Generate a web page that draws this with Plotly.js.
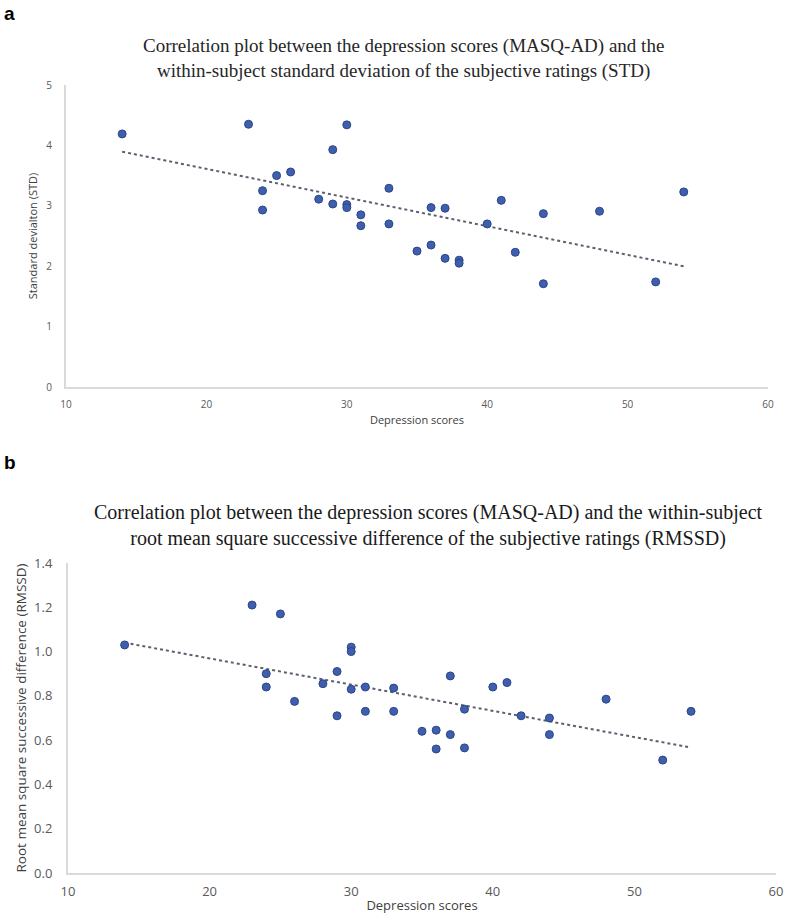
<!DOCTYPE html>
<html>
<head>
<meta charset="utf-8">
<script src="https://cdn.plot.ly/plotly-3.0.1.min.js"></script>
<style>
  html, body { margin: 0; padding: 0; background: #ffffff; }
  #chart { width: 792px; height: 922px; }
</style>
</head>
<body>
<div id="chart"></div>
<script>
// Depression scores (MASQ-AD) per subject
const depressionA = [14, 23, 24, 24, 25, 26, 28, 29, 29, 30, 30, 30, 31, 31, 33, 33, 35, 36, 36, 37, 37, 38, 38, 40, 41, 42, 44, 44, 48, 52, 54];
// Within-subject standard deviation (STD)
const stdValues   = [4.19, 4.35, 3.25, 2.93, 3.50, 3.56, 3.11, 3.93, 3.03, 4.34, 3.02, 2.97, 2.85, 2.67, 3.29, 2.70, 2.25, 2.97, 2.35, 2.96, 2.13, 2.10, 2.05, 2.70, 3.09, 2.23, 2.87, 1.71, 2.91, 1.74, 3.23];

const depressionB = [14, 23, 24, 24, 25, 26, 28, 29, 29, 30, 30, 30, 31, 31, 33, 33, 35, 36, 36, 37, 37, 38, 38, 40, 41, 42, 44, 44, 48, 52, 54];
// Root mean square successive difference (RMSSD)
const rmssdValues = [1.03, 1.21, 0.90, 0.84, 1.17, 0.775, 0.855, 0.91, 0.71, 1.02, 1.00, 0.83, 0.84, 0.73, 0.835, 0.73, 0.64, 0.645, 0.56, 0.89, 0.625, 0.74, 0.565, 0.84, 0.86, 0.71, 0.70, 0.625, 0.785, 0.51, 0.73];

const xTicks = [10, 20, 30, 40, 50, 60];

function linearFit(xs, ys) {
  const n = xs.length;
  let sx = 0, sy = 0, sxx = 0, sxy = 0;
  for (let i = 0; i < n; i++) { sx += xs[i]; sy += ys[i]; sxx += xs[i]*xs[i]; sxy += xs[i]*ys[i]; }
  const slope = (n*sxy - sx*sy) / (n*sxx - sx*sx);
  const intercept = (sy - slope*sx) / n;
  const x0 = Math.min(...xs), x1 = Math.max(...xs);
  return { x: [x0, x1], y: [intercept + slope*x0, intercept + slope*x1] };
}

const fitA = linearFit(depressionA, stdValues);
const fitB = linearFit(depressionB, rmssdValues);

const W = 792, H = 922;
const px = v => v / W;
const py = v => 1 - v / H;

const markerStyle = { color: '#3f5fae', size: 8, line: { color: '#2a4687', width: 1 } };
const trendStyle = { color: '#5b5f6e', width: 2, dash: 'dot' };

const traces = [
  { type: 'scatter', mode: 'lines', x: fitA.x, y: fitA.y, xaxis: 'x', yaxis: 'y', line: trendStyle, hoverinfo: 'skip' },
  { type: 'scatter', mode: 'markers', x: depressionA, y: stdValues, xaxis: 'x', yaxis: 'y', marker: markerStyle },
  { type: 'scatter', mode: 'lines', x: fitB.x, y: fitB.y, xaxis: 'x2', yaxis: 'y2', line: trendStyle, hoverinfo: 'skip' },
  { type: 'scatter', mode: 'markers', x: depressionB, y: rmssdValues, xaxis: 'x2', yaxis: 'y2', marker: markerStyle }
];

const sans = 'Open Sans, Lato, sans-serif';
const tickFontA = { family: sans, size: 10, color: '#595959' };
const tickFontB = { family: sans, size: 13, color: '#595959' };
const axisCommon = { showgrid: false, zeroline: false, showline: true, linecolor: '#d9d9d9', linewidth: 2, ticks: '' };
const titleSerif = 'Liberation Serif, Times New Roman, serif';

const layout = {
  width: W, height: H,
  margin: { l: 0, r: 0, t: 0, b: 0 },
  paper_bgcolor: '#ffffff', plot_bgcolor: '#ffffff',
  showlegend: false,
  xaxis: Object.assign({}, axisCommon, {
    domain: [px(66), px(768)], anchor: 'y', range: [10, 60], tickvals: xTicks, tickfont: tickFontA, ticklabelstandoff: 7,
    title: { text: 'Depression scores', font: { family: sans, size: 11, color: '#404040' }, standoff: 6 }
  }),
  yaxis: Object.assign({}, axisCommon, {
    domain: [py(387), py(85)], anchor: 'x', range: [0, 5], dtick: 1, tickfont: tickFontA, ticklabelstandoff: 10,
    title: { text: 'Standard devialton (STD)', font: { family: sans, size: 11, color: '#404040' }, standoff: 6 }
  }),
  xaxis2: Object.assign({}, axisCommon, {
    domain: [px(68), px(776)], anchor: 'y2', range: [10, 60], tickvals: xTicks, tickfont: tickFontB, ticklabelstandoff: 5,
    title: { text: 'Depression scores', font: { family: sans, size: 13, color: '#404040' }, standoff: 2 }
  }),
  yaxis2: Object.assign({}, axisCommon, {
    domain: [py(873), py(563)], anchor: 'x2', range: [0, 1.4], dtick: 0.2, tickformat: '.1f', tickfont: tickFontB, ticklabelstandoff: 11,
    title: { text: 'Root mean square successive difference (RMSSD)', font: { family: sans, size: 13.5, color: '#404040' }, standoff: 4 }
  }),
  annotations: [
    { xref: 'paper', yref: 'paper', x: px(2), y: py(1), xanchor: 'left', yanchor: 'top', showarrow: false,
      text: '<b>a</b>', font: { family: 'Liberation Sans, Arial, sans-serif', size: 19, color: '#000' } },
    { xref: 'paper', yref: 'paper', x: px(2), y: py(450), xanchor: 'left', yanchor: 'top', showarrow: false,
      text: '<b>b</b>', font: { family: 'Liberation Sans, Arial, sans-serif', size: 19, color: '#000' } },
    { xref: 'paper', yref: 'paper', x: px(404), y: py(59), xanchor: 'center', yanchor: 'middle', showarrow: false,
      text: 'Correlation plot between the depression scores (MASQ-AD) and the<br>within-subject standard deviation of the subjective ratings (STD)',
      font: { family: titleSerif, size: 19, color: '#262626' } },
    { xref: 'paper', yref: 'paper', x: px(428), y: py(525), xanchor: 'center', yanchor: 'middle', showarrow: false,
      text: 'Correlation plot between the depression scores (MASQ-AD) and the within-subject<br>root mean square successive difference of the subjective ratings (RMSSD)',
      font: { family: titleSerif, size: 20, color: '#1a1a1a' } }
  ]
};

Plotly.newPlot('chart', traces, layout, { staticPlot: true, displayModeBar: false });
</script>
</body>
</html>
